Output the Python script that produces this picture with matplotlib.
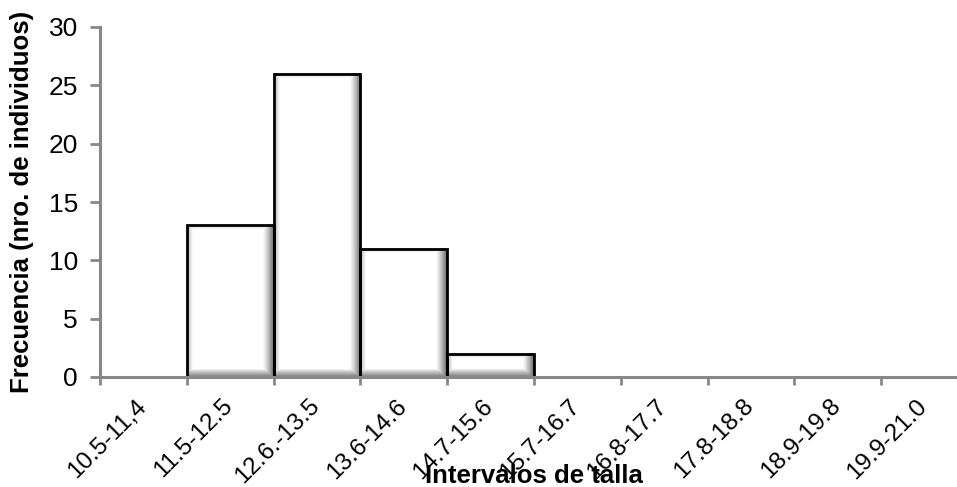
import numpy as np
import matplotlib
matplotlib.use("Agg")
import matplotlib.pyplot as plt
from matplotlib.transforms import ScaledTranslation

categories = ["10.5-11,4", "11.5-12.5", "12.6.-13.5", "13.6-14.6", "14.7-15.6",
              "15.7-16.7", "16.8-17.7", "17.8-18.8", "18.9-19.8", "19.9-21.0"]
frecuencia = [0, 13, 26, 11, 2, 0, 0, 0, 0, 0]
y_ticks = [0, 5, 10, 15, 20, 25, 30]

plt.rcParams['font.family'] = ['Liberation Sans', 'DejaVu Sans']

W, H = 957, 487
fig = plt.figure(figsize=(W / 100, H / 100), dpi=100)
ax = fig.add_axes([100 / W, (H - 377) / H, 868 / W, 350 / H])

n = len(categories)
x = np.arange(n)
ax.set_xlim(-0.5, n - 0.5)
ax.set_ylim(0, 30)

gray = '#878787'

bars = ax.bar(x, frecuencia, width=1.0, color='white', edgecolor='none', zorder=2)

# bevel shading for each bar (computed in pixel space)
fig.canvas.draw()
for rect, v in zip(bars, frecuencia):
    if v <= 0:
        continue
    x0, y0 = rect.get_x(), rect.get_y()
    x1, y1 = x0 + rect.get_width(), y0 + rect.get_height()
    (px0, py0), (px1, py1) = ax.transData.transform([(x0, y0), (x1, y1)])
    wpx = max(int(round(px1 - px0)), 2)
    hpx = max(int(round(py1 - py0)), 2)
    xx = np.arange(wpx)[None, :] + 0.5
    yy = np.arange(hpx)[:, None] + 0.5  # from top
    d_r = wpx - xx
    d_l = xx
    d_t = yy
    d_b = hpx - yy
    f_r = np.clip(1 - d_r / 11.0, 0, 1) ** 1.2
    f_b = np.clip(1 - d_b / 8.0, 0, 1) ** 0.8 * 0.85
    f_l = np.clip(1 - d_l / 6.0, 0, 1) * 0.5
    f_t = np.clip(1 - d_t / 5.0, 0, 1) * 0.3
    f = np.maximum.reduce([np.broadcast_to(f_r, (hpx, wpx)),
                           np.broadcast_to(f_b, (hpx, wpx)),
                           np.broadcast_to(f_l, (hpx, wpx)),
                           np.broadcast_to(f_t, (hpx, wpx))])
    c = 1 - 0.6 * f
    img = np.dstack([c, c, c])
    ax.imshow(img, extent=(x0, x1, y0, y1), aspect='auto', origin='upper',
              interpolation='bilinear', zorder=3)

ax.bar(x, frecuencia, width=1.0, fill=False, edgecolor='black', linewidth=2.0, zorder=4)
ax.set_xlim(-0.5, n - 0.5)
ax.set_ylim(0, 30)

for s in ['top', 'right']:
    ax.spines[s].set_visible(False)
for s in ['left', 'bottom']:
    ax.spines[s].set_color(gray)
    ax.spines[s].set_linewidth(2.2)
    ax.spines[s].set_zorder(6)

ax.set_yticks(y_ticks)
ax.set_yticklabels([str(t) for t in y_ticks], fontsize=19)
ax.tick_params(axis='y', length=7, width=2, color=gray, pad=9, direction='out')

ax.set_xticks(x)
ax.set_xticklabels(categories, rotation=45, ha='right', va='top', fontsize=17.5)
ax.tick_params(axis='x', which='major', length=0, pad=13)
shift = ScaledTranslation(7 / 100, 0, fig.dpi_scale_trans)
for lab in ax.get_xticklabels():
    lab.set_transform(lab.get_transform() + shift)
ax.set_xticks(np.arange(n) - 0.5, minor=True)
ax.tick_params(axis='x', which='minor', length=6, width=2, color=gray, direction='out')

fig.text(534 / W, (H - 483) / H, 'Intervalos de talla', ha='center', va='baseline',
         fontsize=18.5, fontweight='bold')
fig.text(22 / W, (H - 202) / H, 'Frecuencia (nro. de individuos)', ha='center', va='center',
         rotation=90, fontsize=18.5, fontweight='bold')

fig.savefig('out.png', dpi=100)
